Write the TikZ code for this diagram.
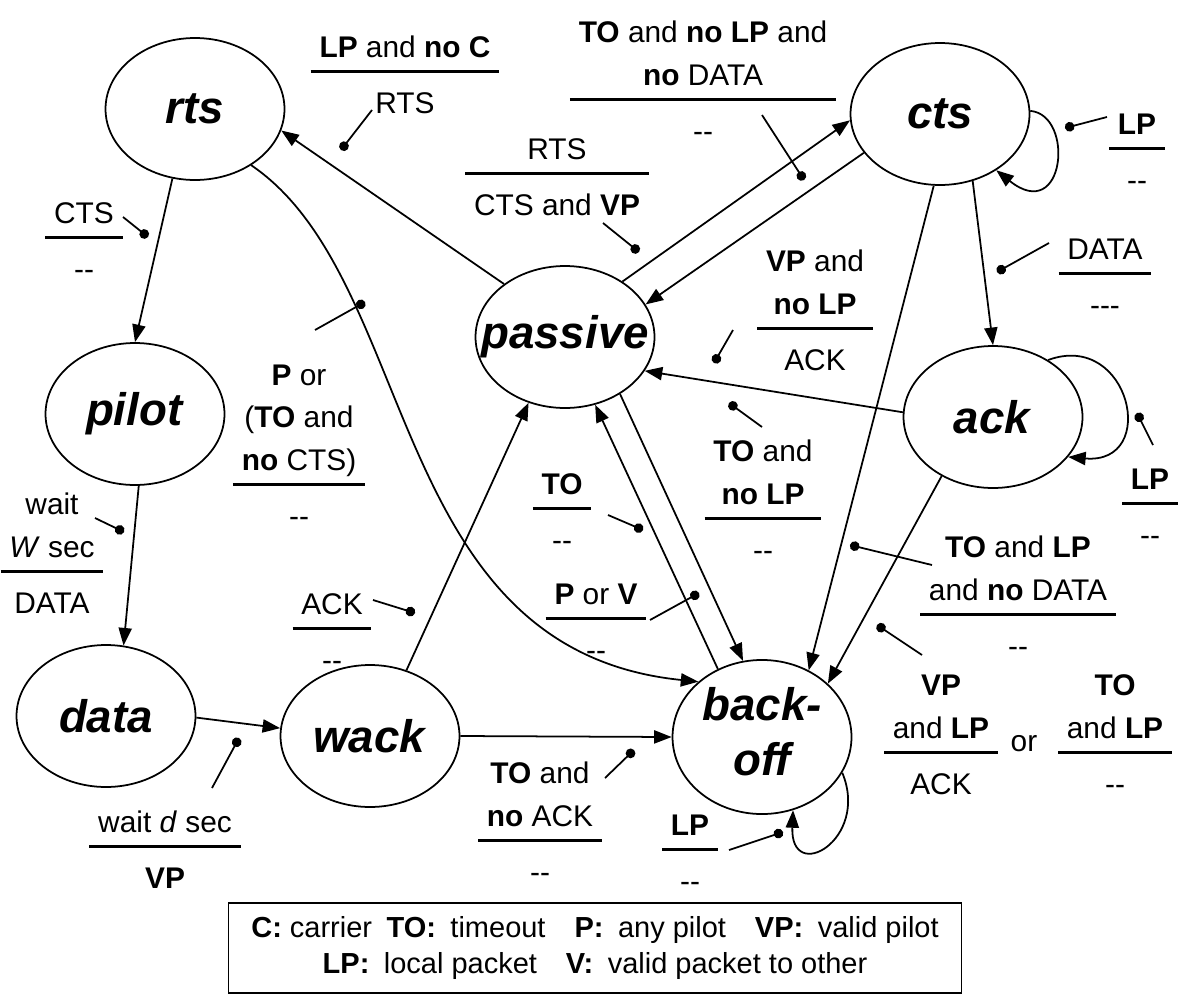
\documentclass[tikz,border=0pt]{standalone}
\usepackage{fontspec}
\setmainfont{Liberation Sans}
\usepackage{array}
\usetikzlibrary{shapes.geometric}
\usetikzlibrary{arrows.meta}
\setlength{\arrayrulewidth}{1.6pt}
\newcommand{\widthstate}{3.58cm}
\newcommand{\heightstate}{2.84cm}
\newcommand{\stname}[1]{\makebox[0pt]{\textbf{\textit{#1}}}}
\newcommand{\trans}[2]{\begin{tabular}[b]{@{\hspace{5pt}}c@{\hspace{5pt}}}#1\\\hline\rule{0pt}{23pt}#2\end{tabular}}
\tikzset{
    state/.style={ellipse, draw, line width=1pt, minimum width=\widthstate, minimum height=\heightstate, inner sep=0pt, font=\fontsize{26}{31}\selectfont},
    lbl/.style={anchor=base, inner sep=0pt, font=\fontsize{17}{24}\selectfont},
    edge/.style={line width=1pt, -{Triangle[length=10pt,width=7.5pt]}},
    leader/.style={line width=1pt, -{Circle[length=5.5pt]}},
    legend/.style={draw, line width=0.6pt, minimum width=14.68cm, minimum height=1.8cm, align=center, font=\fontsize{16.5}{20}\selectfont}
}

\begin{document}
\begin{tikzpicture}[x=0.02cm, y=-0.02cm]
    \useasboundingbox (0,0) rectangle (1179,994);

    % states
    \node[state] (rts) at (195,109) {\stname{rts}};
    \node[state] (pilot) at (135,414) {\stname{pilot}};
    \node[state] (data) at (106,716) {\stname{data}};
    \node[state] (wack) at (370,736) {\stname{wack}};
    \node[state] (passive) at (565,337) {\stname{passive}};
    \node[state] (cts) at (940,114) {\stname{cts}};
    \node[state] (ack) at (993,417) {\stname{ack}};
    \node[state] (backoff) at (762,737) {\stname{\begin{tabular}{@{}c@{}}back-\\off\end{tabular}}};

    % transitions
    \draw[edge] (passive.139) -- (rts.-14);
    \draw[edge] (rts.252) -- (pilot.90);
    \draw[edge] (pilot.273) -- (data.76);
    \draw[edge] (data.-1) -- (wack.175);
    \draw[edge] (wack.61) -- (passive.241);
    \draw[edge] (wack.0) -- (backoff.180);
    \draw[edge] (rts.-45) .. controls (420,280) and (385,650) .. (backoff.139);
    \draw[edge] (backoff.123) -- (passive.-66);
    \draw[edge] (passive.-46) -- (backoff.104);
    \draw[edge] (passive.44) -- (cts.184);
    \draw[edge] (cts.207) -- (passive.22);
    \draw[edge] (ack.177) -- (passive.-23);
    \draw[edge] (cts.-64) -- (ack.90);
    \draw[edge] (cts.265) -- (backoff.55);
    \draw[edge] (ack.229) -- (backoff.39);
    \draw[edge] (cts.2) .. controls (1075,115) and (1065,225) .. (cts.-45);
    \draw[edge] (ack.46) .. controls (1130,330) and (1160,465) .. (ack.-28);
    \draw[edge] (backoff.-24) .. controls (870,840) and (790,885) .. (backoff.-67);

    % labels
    \node[lbl] (t-rts) at (405,113) {\trans{\textbf{LP} and \textbf{no C}}{RTS}};
    \node[lbl] (t-pilot) at (84,279) {\trans{CTS}{-{}-}};
    \node[lbl] (t-ctsto) at (703,141) {\trans{\textbf{TO} and \textbf{no LP} and\\\textbf{no} DATA}{-{}-}};
    \node[lbl] (t-cts) at (557,215) {\trans{RTS}{CTS and \textbf{VP}}};
    \node[lbl] (t-rtsto) at (299,526) {\trans{\textbf{P} or\\(\textbf{TO} and\\\textbf{no} CTS)}{-{}-}};
    \node[lbl] (t-data) at (52,613) {\trans{wait\\\textit{W} sec}{DATA}};
    \node[lbl] (t-wackack) at (332,670) {\trans{ACK}{-{}-}};
    \node[lbl] (t-wack) at (165,888) {\trans{wait \textit{d} sec}{\textbf{VP}}};
    \node[lbl] (t-wackto) at (540,882) {\trans{\textbf{TO} and\\\textbf{no} ACK}{-{}-}};
    \node[lbl] (t-boloop) at (690,891) {\trans{\textbf{LP}}{-{}-}};
    \node[lbl] (t-boto) at (562,550) {\trans{\textbf{TO}}{-{}-}};
    \node[lbl] (t-pv) at (596,660) {\trans{\textbf{P} or \textbf{V}}{-{}-}};
    \node[lbl] (t-ctsvp) at (815,370) {\trans{\textbf{VP} and\\\textbf{no LP}}{ACK}};
    \node[lbl] (t-ackto) at (763,560) {\trans{\textbf{TO} and\\\textbf{no LP}}{-{}-}};
    \node[lbl] (t-ctsloop) at (1137,190) {\trans{\textbf{LP}}{-{}-}};
    \node[lbl] (t-ack) at (1105,315) {\trans{DATA}{-{}-{}-}};
    \node[lbl] (t-ackloop) at (1150,545) {\trans{\textbf{LP}}{-{}-}};
    \node[lbl] (t-ctslp) at (1018,656) {\trans{\textbf{TO} and \textbf{LP}\\and \textbf{no} DATA}{-{}-}};
    \node[lbl] (t-ackvp) at (941,794) {\trans{\textbf{VP}\\and \textbf{LP}}{ACK}};
    \node[lbl, anchor=center] (t-or) at (1024,744) {or};
    \node[lbl] (t-acklp) at (1115,794) {\trans{\textbf{TO}\\and \textbf{LP}}{-{}-}};

    % leaders
    \coordinate (a1) at (372,110);   \coordinate (d1) at (341,150);
    \coordinate (a2) at (123,217);   \coordinate (d2) at (148,237);
    \coordinate (a3) at (762,115);   \coordinate (d3) at (804,180);
    \coordinate (a4) at (603,223);   \coordinate (d4) at (639,252);
    \coordinate (a5) at (315,330);   \coordinate (d5) at (365,302);
    \coordinate (a6) at (95,518);    \coordinate (d6) at (124,532);
    \coordinate (a7) at (373,600);   \coordinate (d7) at (415,613);
    \coordinate (a8) at (212,788);   \coordinate (d8) at (239,738);
    \coordinate (a9) at (605,778);   \coordinate (d9) at (634,750);
    \coordinate (a10) at (729,850);  \coordinate (d10) at (783,832);
    \coordinate (a11) at (608,515);  \coordinate (d11) at (643,530);
    \coordinate (a12) at (650,620);  \coordinate (d12) at (699,593);
    \coordinate (a13) at (733,330);  \coordinate (d13) at (714,363);
    \coordinate (a14) at (762,427);  \coordinate (d14) at (729,403);
    \coordinate (a15) at (1107,117); \coordinate (d15) at (1065,128);
    \coordinate (a16) at (1049,243); \coordinate (d16) at (997,272);
    \coordinate (a17) at (1153,445); \coordinate (d17) at (1137,413);
    \coordinate (a18) at (932,565);  \coordinate (d18) at (850,545);
    \coordinate (a19) at (922,655);  \coordinate (d19) at (877,625);
    \draw[leader] (a1) -- (d1);
    \draw[leader] (a2) -- (d2);
    \draw[leader] (a3) -- (d3);
    \draw[leader] (a4) -- (d4);
    \draw[leader] (a5) -- (d5);
    \draw[leader] (a6) -- (d6);
    \draw[leader] (a7) -- (d7);
    \draw[leader] (a8) -- (d8);
    \draw[leader] (a9) -- (d9);
    \draw[leader] (a10) -- (d10);
    \draw[leader] (a11) -- (d11);
    \draw[leader] (a12) -- (d12);
    \draw[leader] (a13) -- (d13);
    \draw[leader] (a14) -- (d14);
    \draw[leader] (a15) -- (d15);
    \draw[leader] (a16) -- (d16);
    \draw[leader] (a17) -- (d17);
    \draw[leader] (a18) -- (d18);
    \draw[leader] (a19) -- (d19);

    % legend
    \node[legend] (key) at (595,948) {\textbf{C:} carrier\enspace \textbf{TO:}\enspace timeout\quad \textbf{P:}\enspace any pilot\quad \textbf{VP:}\enspace valid pilot\\\textbf{LP:}\enspace local packet\quad \textbf{V:}\enspace valid packet to other};
\end{tikzpicture}
\end{document}
